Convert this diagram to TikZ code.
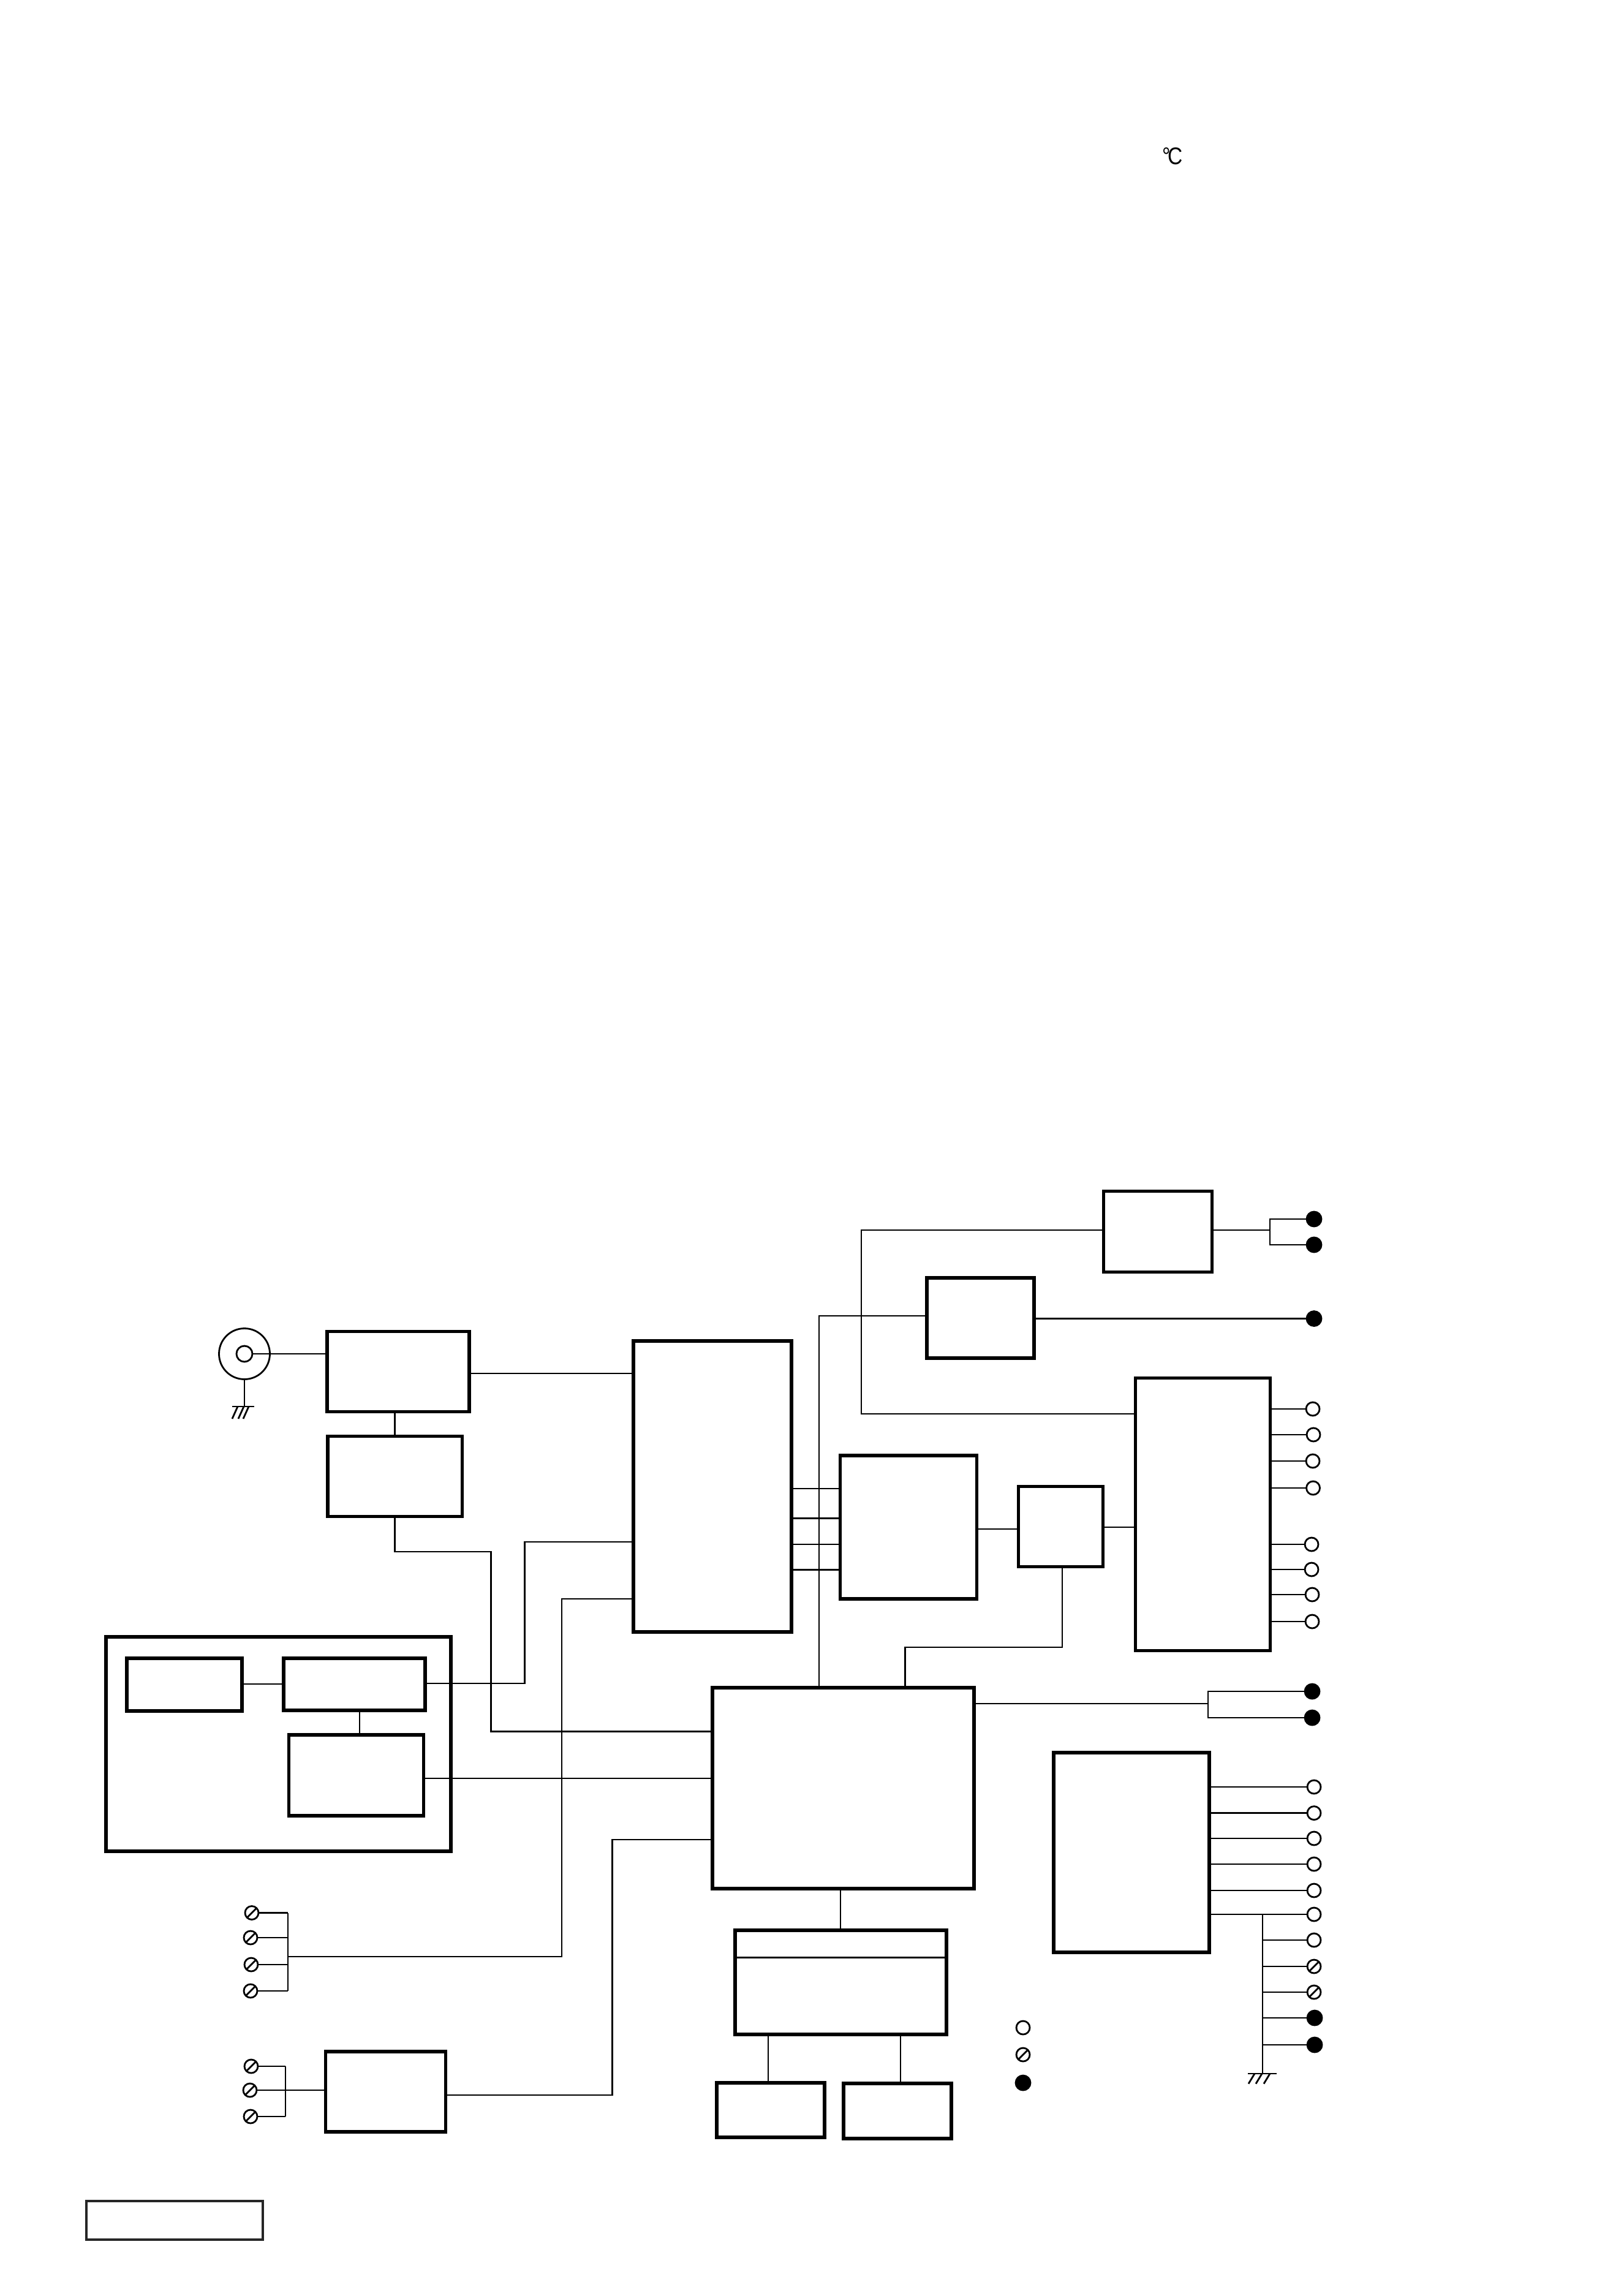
\documentclass[tikz,border=0pt]{standalone}
\usepackage{fontspec}
\setmainfont{Liberation Sans}
\usetikzlibrary{calc}
\tikzset{
  blockbox/.style={draw, line width=1.45pt, inner sep=0pt, outer sep=0pt},
  pinopen/.style={circle, draw, line width=.8pt, fill=white, minimum size=.22cm, inner sep=0pt, outer sep=0pt},
  pinslash/.style={pinopen, path picture={\draw[line width=.8pt] (path picture bounding box.south west) -- (path picture bounding box.north east);}},
  pinfilled/.style={pinopen, fill=black, minimum size=.24cm},
  wire/.style={line width=.8pt}
}
\begin{document}
\begin{tikzpicture}[x=1cm,y=-1cm]
\useasboundingbox (0,0) rectangle (26.5,37.48);
\node[xscale=.85] (tempnote) at (19.14,2.55) {\fontsize{11.2}{13}\selectfont °\kern-.12em C};

\node[blockbox, minimum width=2.32cm, minimum height=1.305cm] (rfbox) at (6.50,22.39) {};
\node[blockbox, minimum width=2.195cm, minimum height=1.315cm] (ifbox) at (6.4475,24.10) {};
\node[blockbox, minimum width=2.58cm, minimum height=4.75cm] (videobox) at (11.63,24.265) {};
\node[blockbox, minimum width=5.63cm, minimum height=3.5cm] (panelbox) at (4.545,28.47) {};
\node[blockbox, minimum width=1.88cm, minimum height=.86cm] (keybox) at (3.01,27.50) {};
\node[blockbox, minimum width=2.31cm, minimum height=.85cm] (decbox) at (5.785,27.495) {};
\node[blockbox, minimum width=2.2cm, minimum height=1.32cm] (membox) at (5.815,28.98) {};
\node[blockbox, minimum width=4.27cm, minimum height=3.28cm] (cpubox) at (13.765,29.19) {};
\node[blockbox, minimum width=1.96cm, minimum height=1.31cm] (inbox) at (6.295,34.145) {};
\node[blockbox, line width=1.2pt, draw=black!85, minimum width=2.88cm, minimum height=.63cm] (titlebox) at (2.85,36.245) {};
\node[blockbox, minimum width=1.765cm, minimum height=1.32cm] (ampbox) at (18.90,20.105) {};
\node[blockbox, minimum width=1.75cm, minimum height=1.31cm] (drvbox) at (16.005,21.515) {};
\node[blockbox, minimum width=2.195cm, minimum height=4.445cm] (outbox) at (19.635,24.72) {};
\node[blockbox, minimum width=2.23cm, minimum height=2.34cm] (procbox) at (14.83,24.93) {};
\node[blockbox, minimum width=1.376cm, minimum height=1.315cm] (swbox) at (17.315,24.92) {};
\node[blockbox, minimum width=2.54cm, minimum height=3.26cm] (psubox) at (18.47,30.24) {};
\node[blockbox, minimum width=3.45cm, minimum height=1.7cm] (flashbox) at (13.725,32.36) {};
\node[blockbox, minimum width=1.76cm, minimum height=.89cm] (ramabox) at (12.58,34.445) {};
\node[blockbox, minimum width=1.76cm, minimum height=.90cm] (rambbox) at (14.65,34.46) {};
\draw[wire] (flashbox.west |- 0,31.955) -- (flashbox.east |- 0,31.955);

\node[circle, draw, wire, minimum size=.83cm, inner sep=0pt, outer sep=0pt] (coaxouter) at (3.99,22.10) {};
\node[circle, draw, wire, minimum size=.26cm, inner sep=0pt, outer sep=0pt] (coaxinner) at (3.99,22.10) {};
\coordinate (gnda) at (3.99,22.96);
\draw[wire] (coaxinner.east) -- (rfbox.west |- coaxinner);
\draw[wire] (coaxouter.south) -- (gnda);
\draw[wire] (3.79,22.96) -- (4.15,22.96);
\foreach \x in {3.79,3.89,3.97} \draw[wire] (\x,23.16) -- (\x+.09,22.96);

\draw[wire] (rfbox.south -| ifbox.south) -- (ifbox.north);
\draw[wire] (rfbox.east |- 0,22.42) -- (videobox.west |- 0,22.42);
\coordinate (ifbend) at (8.015,25.33);
\coordinate (ifdrop) at (8.015,28.265);
\draw[wire] (ifbox.south) |- (ifbend) -- (ifdrop) -- (cpubox.west |- ifdrop);
\coordinate (decrise) at (8.565,25.17);
\draw[wire] (decbox.east |- 0,27.48) -| (decrise) -- (videobox.west |- decrise);
\draw[wire] (keybox.east |- 0,27.49) -- (decbox.west |- 0,27.49);
\draw[wire] (decbox.south -| 5.87,0) -- (membox.north -| 5.87,0);
\draw[wire] (membox.east |- 0,29.03) -- (cpubox.west |- 0,29.03);

% left pins
\coordinate (busa) at (4.70,31.94);
\coordinate (risea) at (9.17,26.10);
\foreach \x/\y [count=\i] in {4.11/31.225,4.09/31.63,4.10/32.07,4.09/32.50} {
  \node[pinslash] (pina\i) at (\x,\y) {};
  \draw[wire] (pina\i) -- (pina\i -| busa);
}
\draw[wire] (pina1 -| busa) -- (pina4 -| busa);
\draw[wire] (busa) -| (risea) -- (videobox.west |- risea);

\coordinate (busb) at (4.66,34.12);
\coordinate (riseb) at (9.995,30.03);
\foreach \x/\y [count=\i] in {4.10/33.73,4.08/34.12,4.09/34.55} {
  \node[pinslash] (pinb\i) at (\x,\y) {};
  \draw[wire] (pinb\i) -- (pinb\i -| busb);
}
\draw[wire] (pinb1 -| busb) -- (pinb3 -| busb);
\draw[wire] (busb) -- (inbox.west |- busb);
\draw[wire] (inbox.east |- 0,34.20) -| (riseb) -- (cpubox.west |- riseb);

% top right
\coordinate (ampturn) at (14.06,20.08);
\coordinate (outturn) at (14.06,23.08);
\draw[wire] (ampbox.west |- ampturn) -- (ampturn) -- (outturn) -- (outbox.west |- outturn);
\coordinate (drvturn) at (13.37,21.48);
\draw[wire] (cpubox.north -| drvturn) -- (drvturn) -- (drvbox.west |- drvturn);
\node[pinfilled] (pinc1) at (21.45,19.90) {};
\node[pinfilled] (pinc2) at (21.45,20.32) {};
\coordinate (busc) at (20.73,20.08);
\draw[wire] (ampbox.east |- busc) -- (busc);
\draw[wire] (pinc1) -| (busc) |- (pinc2);
\node[pinfilled] (pind) at (21.45,21.525) {};
\draw[wire] (drvbox.east |- pind) -- (pind);

\foreach \y in {24.30,24.785,25.21,25.626} \draw[wire] (videobox.east |- 0,\y) -- (procbox.west |- 0,\y);
\draw[wire] (procbox.east |- 0,24.96) -- (swbox.west |- 0,24.96);
\draw[wire] (swbox.east |- 0,24.93) -- (outbox.west |- 0,24.93);
\coordinate (swturn) at (17.34,26.89);
\draw[wire] (swbox.south -| swturn) -- (swturn) -| (cpubox.north -| 14.776,0);

\foreach \x/\y [count=\i] in {21.43/23.00,21.44/23.42,21.43/23.85,21.435/24.29,21.41/25.21,21.41/25.62,21.42/26.03,21.42/26.47} {
  \node[pinopen] (pine\i) at (\x,\y) {};
  \draw[wire] (outbox.east |- pine\i) -- (pine\i);
}

\coordinate (busf) at (19.72,27.81);
\node[pinfilled] (pinf1) at (21.42,27.61) {};
\node[pinfilled] (pinf2) at (21.42,28.04) {};
\draw[wire] (cpubox.east |- busf) -- (busf);
\draw[wire] (pinf1) -| (busf) |- (pinf2);

% lower right
\foreach \y [count=\i] in {29.17,29.596,30.01,30.43,30.86} {
  \node[pinopen] (ping\i) at (21.45,\y) {};
  \draw[wire] (psubox.east |- ping\i) -- (ping\i);
}
\node[pinopen] (pinh) at (21.45,31.25) {};
\draw[wire] (psubox.east |- pinh) -- (pinh);
\coordinate (gndb) at (20.61,33.85);
\draw[wire] (pinh -| gndb) -- (gndb);
\draw[wire] (20.37,33.85) -- (20.84,33.85);
\foreach \x in {20.38,20.50,20.63} \draw[wire] (\x,34.015) -- (\x+.10,33.85);
\node[pinopen] (pinj1) at (21.45,31.67) {};
\node[pinslash] (pinj2) at (21.45,32.10) {};
\node[pinslash] (pinj3) at (21.45,32.52) {};
\node[pinfilled] (pinj4) at (21.46,32.94) {};
\node[pinfilled] (pinj5) at (21.46,33.38) {};
\foreach \i in {1,...,5} \draw[wire] (gndb |- pinj\i) -- (pinj\i);

% bottom
\draw[wire] (cpubox.south -| 13.72,0) -- (flashbox.north -| 13.72,0);
\draw[wire] (flashbox.south -| 12.54,0) -- (ramabox.north -| 12.54,0);
\draw[wire] (flashbox.south -| 14.70,0) -- (rambbox.north -| 14.70,0);

\node[pinopen] (keyopen) at (16.70,33.10) {};
\node[pinslash] (keyslash) at (16.70,33.54) {};
\node[pinfilled] (keyfilled) at (16.70,34.00) {};
\end{tikzpicture}
\end{document}
